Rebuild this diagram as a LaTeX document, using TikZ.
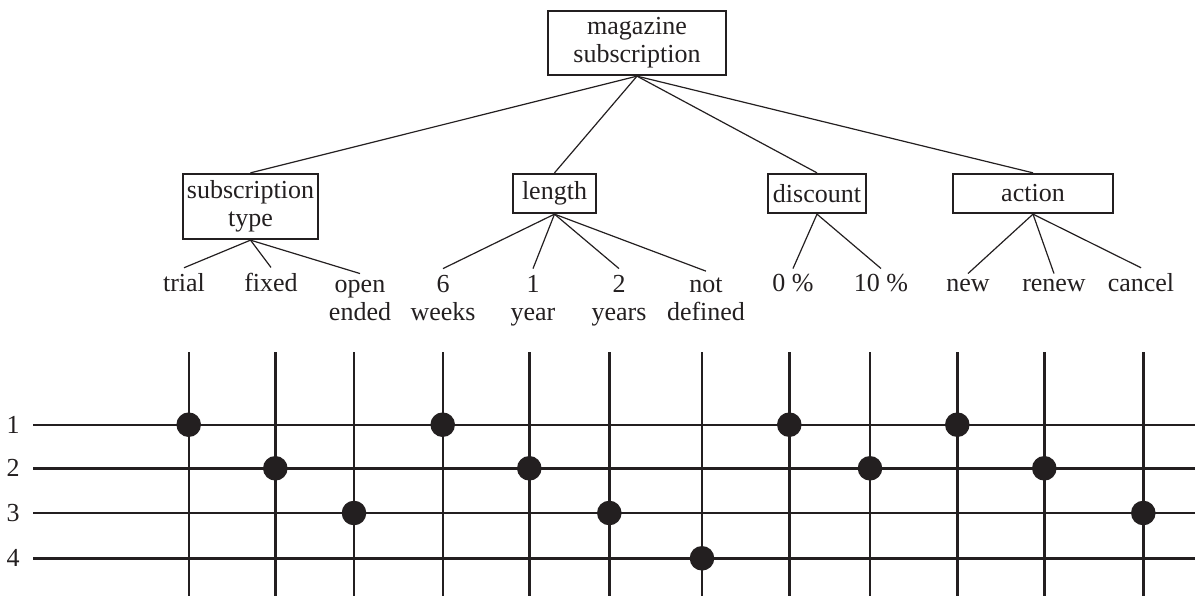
\documentclass[tikz,border=0pt]{standalone}
\usepackage{fontspec}
\setmainfont{Liberation Serif}
\definecolor{ink}{HTML}{231F20}
\begin{document}
\begin{tikzpicture}[x=1pt,y=-1pt,
  every node/.style={font=\fontsize{26}{28}\selectfont, text=ink},
  box/.style={draw=ink, line width=2.3pt, inner sep=0pt, align=center},
  leaf/.style={inner xsep=0pt, inner ysep=6pt, align=center, anchor=base},
  tree/.style={draw=ink, line width=1.2pt},
  grid/.style={draw=ink, line width=2.4pt},
  dot/.style={circle, fill=ink, inner sep=0pt, minimum size=24.6pt},
  rowlab/.style={anchor=base, inner sep=0pt}]
\useasboundingbox (0,0) rectangle (1195,596);

% boxes
\node[box, minimum width=178pt, minimum height=64pt] (top) at (637,43) {magazine\\subscription};
\node[box, minimum width=135pt, minimum height=65pt] (sub) at (250.5,206.5) {subscription\\type};
\node[box, minimum width=83pt, minimum height=39pt] (len) at (554.5,193.5) {length};
\node[box, minimum width=98pt, minimum height=39pt] (dis) at (817,193.5) {discount};
\node[box, minimum width=160pt, minimum height=39pt] (act) at (1033,193.5) {action};

\foreach \c in {sub,len,dis,act} \draw[tree] (top.south) -- (\c.north);

% leaves (two-line leaves are anchored at the baseline of their last line)
\node[leaf] (trial) at (184,292) {trial};
\node[leaf] (fixed) at (271,292) {fixed};
\node[leaf] (open) at (360,320) {open\\ended};
\node[leaf] (w6) at (443,320) {6\\weeks};
\node[leaf] (y1) at (533,320) {1\\year};
\node[leaf] (y2) at (619,320) {2\\years};
\node[leaf] (nd) at (706,320) {not\\defined};
\node[leaf] (d0) at (793,292) {0 \%};
\node[leaf] (d10) at (881,292) {10 \%};
\node[leaf] (new) at (968,292) {new};
\node[leaf] (ren) at (1054,292) {renew};
\node[leaf] (can) at (1141,292) {cancel};

\foreach \l in {trial,fixed,open} \draw[tree] (sub.south) -- (\l.north);
\foreach \l in {w6,y1,y2,nd} \draw[tree] (len.south) -- (\l.north);
\foreach \l in {d0,d10} \draw[tree] (dis.south) -- (\l.north);
\foreach \l in {new,ren,can} \draw[tree] (act.south) -- (\l.north);

% grid
\foreach \n/\y in {1/424.7,2/468.3,3/513,4/558.3} {
  \draw[grid] (33,\y) -- (1195,\y);
  \node[rowlab] (r\n) at (13,\y+8.5) {\n};
}
\foreach \x in {188.7,275.3,354,442.7,529.3,609.3,702,789.3,870,957.3,1044.3,1143.3}
  \draw[grid] (\x,352) -- (\x,596);

% dots
\foreach \x/\y in {188.7/424.7,442.7/424.7,789.3/424.7,957.3/424.7,
                   275.3/468.3,529.3/468.3,870/468.3,1044.3/468.3,
                   354/513,609.3/513,1143.3/513,
                   702/558.3}
  \node[dot] at (\x,\y) {};
\end{tikzpicture}
\end{document}
